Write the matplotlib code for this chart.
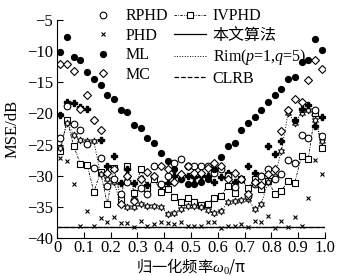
import numpy as np
import matplotlib
matplotlib.use("Agg")
import matplotlib.pyplot as plt

plt.rcParams['font.family'] = ['Liberation Serif', 'Noto Sans CJK SC', 'DejaVu Sans']
plt.rcParams['mathtext.fontset'] = 'custom'
plt.rcParams['mathtext.rm'] = 'Liberation Serif'
plt.rcParams['mathtext.it'] = 'Liberation Serif:italic'

# normalized frequency grid (40 points)
freq = np.arange(40) * 0.025 + 0.0125

rphd = [-23.9, -18.8, -21.7, -22.7, -24.9, -28.7, -27.1, -31.6, -30.5, -33.0,
        -31.0, -33.9, -31.9, -32.9, -28.4, -31.3, -30.0, -28.0, -27.3, -28.4,
        -28.4, -28.4, -28.4, -29.5, -29.0, -30.0, -31.8, -30.5, -33.2, -31.3,
        -30.0, -29.0, -30.5, -29.8, -27.5, -27.9, -23.5, -24.0, -19.5, -23.7]
phd = [-27.1, -27.7, -31.3, -38.0, -35.6, -38.1, -36.8, -37.4, -36.7, -37.6,
       -37.6, -38.2, -37.3, -38.1, -37.7, -37.4, -37.6, -37.7, -37.4, -38.0,
       -38.0, -38.0, -37.4, -37.4, -38.4, -38.0, -38.0, -37.7, -38.2, -37.3,
       -37.4, -36.5, -38.4, -37.3, -38.2, -36.6, -38.0, -33.5, -27.4, -29.7]
ml = [-10.2, -7.7, -11.0, -11.5, -13.4, -14.4, -15.4, -17.1, -17.7, -19.5,
      -19.8, -21.8, -22.4, -24.0, -24.8, -26.4, -27.6, -29.0, -30.5, -31.3,
      -31.3, -31.0, -30.5, -29.0, -27.0, -25.3, -24.7, -22.6, -21.5, -20.5,
      -19.4, -18.1, -17.1, -16.0, -14.4, -14.2, -11.8, -11.5, -8.1, -9.8]
mc = [-12.1, -12.1, -13.2, -19.3, -17.1, -21.0, -22.6, -29.5, -29.0, -34.5,
      -30.0, -34.0, -30.5, -29.4, -30.0, -28.4, -29.0, -31.0, -29.7, -28.5,
      -29.5, -29.5, -28.8, -28.0, -28.4, -30.5, -29.5, -30.5, -33.0, -31.0,
      -31.5, -29.7, -29.0, -22.9, -19.5, -17.7, -18.2, -14.7, -11.5, -12.9]
ivphd = [-26.0, -21.0, -25.3, -28.1, -28.2, -32.6, -29.4, -34.5, -28.7, -33.7,
         -28.4, -32.7, -29.0, -31.9, -30.5, -32.6, -32.1, -33.4, -34.2, -33.5,
         -34.2, -34.7, -34.5, -33.5, -33.2, -31.6, -32.7, -30.6, -31.9, -30.6,
         -32.1, -30.8, -32.9, -32.4, -30.8, -31.1, -26.8, -27.3, -20.0, -25.5]
rim = [-25.5, -21.5, -23.5, -24.3, -24.5, -24.5, -29.8, -30.6, -31.0, -34.5,
       -35.1, -35.0, -34.6, -34.8, -34.8, -35.0, -36.1, -36.0, -35.3, -34.8,
       -34.8, -35.0, -35.5, -36.0, -35.6, -34.3, -34.0, -33.9, -33.7, -35.4,
       -34.5, -31.0, -30.0, -26.0, -19.9, -21.5, -20.0, -19.5, -21.0, -24.5]
proposed_pts = [-20.3, -18.2, -18.4, -19.0, -19.3, -21.1, -24.2, -28.4, -26.8, -31.1,
                -29.0, -31.1, -30.5, -31.5, -30.0, -31.5, -31.1, -30.0, -30.5, -30.0,
                -30.2, -30.0, -30.0, -31.0, -30.2, -29.5, -31.0, -30.5, -28.4, -29.5,
                -30.0, -25.2, -26.5, -24.5, -19.5, -21.0, -19.3, -18.7, -22.0, -20.5]
line_x = [0.0, 1.0]
proposed_line = [-38.2, -38.2]
clrb = [-38.2, -38.2]

fig = plt.figure(figsize=(3.55, 2.76), dpi=100)
ax = fig.add_axes([57/355, 1-238/276, (325-57)/355, (238-20)/276])

ax.plot(freq, ivphd, linestyle=(0, (3, 1.5, 1, 1.5)), color='black', lw=0.6,
        marker='s', ms=4.2, mfc='white', mec='black', mew=0.8, label='IVPHD')
ax.plot(freq, rim, linestyle=':', color='black', lw=0.7, label='Rim($p$=1,$q$=5)')
ax.plot(freq, rim, linestyle='none', marker=(6, 1, 0), ms=5, color='black', mfc='white', mew=0.7)
ax.plot(freq, proposed_pts, linestyle='none', marker='P', ms=4.5, color='black')
ax.plot(line_x, proposed_line, '-', color='black', lw=0.9, label='本文算法')
ax.plot(line_x, clrb, '--', color='black', lw=0.9, label='CLRB')
ax.plot(freq, rphd, linestyle='none', marker='o', ms=4.8, mfc='white', mec='black', mew=0.8, label='RPHD')
ax.plot(freq, phd, linestyle='none', marker='x', ms=3.0, color='black', mew=0.8, label='PHD')
ax.plot(freq, ml, linestyle='none', marker='o', ms=4.2, color='black', label='ML')
ax.plot(freq, mc, linestyle='none', marker='D', ms=3.6, mfc='white', mec='black', mew=0.8, label='MC')

ax.set_xlim(0, 1.0)
ax.set_ylim(-40, -5)
ax.set_xticks(np.arange(0, 1.01, 0.1))
ax.set_xticklabels(['0', '0.1', '0.2', '0.3', '0.4', '0.5', '0.6', '0.7', '0.8', '0.9', '1.0'])
ax.set_yticks(np.arange(-40, -4, 5))
ax.tick_params(direction='in', length=4, width=0.8, labelsize=12, pad=3)
ax.tick_params(axis='x', pad=1.5)
for s in ['top', 'right']:
    ax.spines[s].set_visible(False)
ax.set_ylabel('MSE/dB', fontsize=12)
ax.yaxis.set_label_coords(-0.135, 0.5)
ax.set_xlabel('归一化频率$\\omega_0$/π', fontsize=11,
              family=['Noto Sans CJK SC', 'DejaVu Sans'])
ax.xaxis.set_label_coords(0.5, -0.128)
ax.xaxis.label.set_va('center')

h, l = ax.get_legend_handles_labels()
order = ['RPHD', 'PHD', 'ML', 'MC', 'IVPHD', '本文算法', 'Rim($p$=1,$q$=5)', 'CLRB']
hh = [h[l.index(o)] for o in order]
leg = fig.legend(hh, order, loc='upper left', bbox_to_anchor=(76/355, 1+3/276), ncol=2,
                 frameon=False, fontsize=11.5, handlelength=2.0, handletextpad=0.4,
                 columnspacing=0.4, labelspacing=0.22, borderpad=0.2)

fig.savefig('out.png', dpi=100)
